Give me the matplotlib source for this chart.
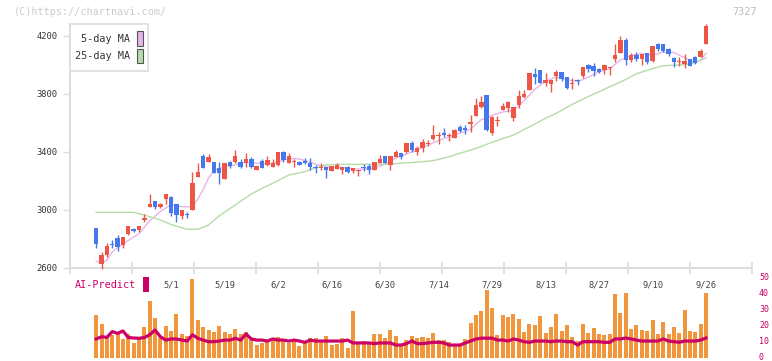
"""Candlestick chart with 5/25-day MA and AI-Predict bar panel (chartnavi style)."""

import matplotlib

matplotlib.use("Agg")
import matplotlib.pyplot as plt
import numpy as np
from matplotlib.patches import Rectangle
from matplotlib.transforms import ScaledTranslation, blended_transform_factory

W, H = 772, 361

RED = "#ef5545"
BLUE = "#4479ee"
ORANGE = "#f0963c"
CRIMSON = "#cc0066"
PINK = "#e8b4ea"
GREEN = "#b4dca8"
GRID = "#dddddd"
MONO = "DejaVu Sans Mono"

# daily prices, one entry per trading day (4/10 .. 9/26)
opens = [2876, 2630, 2690, 2763, 2805, 2759, 2834, 2867, 2864, 2933,
         3021, 3062, 3021, 3078, 3092, 3041, 2959, 2970, 3000, 3228,
         3372, 3333, 3329, 3292, 3216, 3333, 3333, 3329, 3326, 3350,
         3274, 3338, 3308, 3294, 3308, 3398, 3326, 3331, 3329, 3338,
         3326, 3297, 3288, 3299, 3271, 3283, 3276, 3294, 3271, 3267,
         3294, 3303, 3276, 3326, 3372, 3313, 3368, 3395, 3400, 3462,
         3402, 3428, 3457, 3490, 3510, 3529, 3510, 3494, 3572, 3568,
         3593, 3648, 3710, 3793, 3531, 3616, 3692, 3706, 3637, 3726,
         3781, 3830, 3938, 3966, 3874, 3871, 3924, 3952, 3917, 3867,
         3897, 3924, 4000, 3993, 3972, 3963, 3977, 4044, 4085, 4172,
         4034, 4069, 4039, 4085, 4027, 4145, 4145, 4110, 4046, 4021,
         4009, 4039, 4053, 4058, 4143]
highs = [2876, 2712, 2772, 2793, 2828, 2814, 2890, 2874, 2890, 2970,
         3110, 3062, 3045, 3110, 3099, 3041, 3002, 2984, 3262, 3322,
         3386, 3386, 3329, 3329, 3322, 3340, 3412, 3350, 3391, 3368,
         3301, 3350, 3372, 3350, 3398, 3407, 3391, 3352, 3336, 3359,
         3356, 3310, 3322, 3299, 3303, 3326, 3294, 3303, 3290, 3274,
         3315, 3315, 3331, 3379, 3372, 3372, 3414, 3395, 3462, 3476,
         3444, 3490, 3481, 3586, 3540, 3564, 3533, 3559, 3586, 3586,
         3655, 3770, 3783, 3793, 3648, 3646, 3736, 3754, 3713, 3828,
         3828, 3947, 3977, 3966, 3943, 3894, 3966, 3952, 3917, 3908,
         3903, 3988, 4007, 4014, 3979, 3998, 3988, 4145, 4200, 4188,
         4085, 4092, 4076, 4085, 4131, 4150, 4145, 4115, 4053, 4053,
         4074, 4039, 4062, 4113, 4283]
lows = [2740, 2593, 2674, 2736, 2717, 2736, 2828, 2846, 2846, 2915,
        3021, 3005, 3015, 3043, 2959, 2919, 2936, 2943, 3000, 3228,
        3292, 3333, 3257, 3181, 3216, 3292, 3322, 3292, 3294, 3287,
        3274, 3287, 3303, 3294, 3303, 3333, 3322, 3299, 3308, 3315,
        3274, 3257, 3276, 3223, 3271, 3283, 3246, 3257, 3257, 3237,
        3271, 3246, 3276, 3326, 3326, 3274, 3368, 3352, 3395, 3402,
        3379, 3402, 3444, 3483, 3455, 3506, 3478, 3494, 3536, 3522,
        3540, 3648, 3701, 3545, 3517, 3579, 3690, 3678, 3614, 3701,
        3774, 3830, 3871, 3874, 3857, 3816, 3892, 3892, 3834, 3834,
        3862, 3908, 3954, 3925, 3943, 3940, 3931, 4023, 4085, 3999,
        4023, 4030, 3999, 4005, 4023, 4097, 4092, 4064, 3984, 3995,
        3981, 3995, 4005, 4053, 4143]
closes = [2768, 2690, 2750, 2757, 2743, 2814, 2890, 2857, 2890, 2947,
          3039, 3021, 3039, 3110, 2981, 2963, 3002, 2966, 3186, 3262,
          3292, 3363, 3257, 3257, 3322, 3306, 3372, 3297, 3350, 3294,
          3301, 3292, 3343, 3324, 3398, 3343, 3372, 3336, 3313, 3324,
          3299, 3288, 3294, 3274, 3303, 3312, 3294, 3262, 3290, 3274,
          3290, 3276, 3331, 3354, 3326, 3372, 3402, 3368, 3462, 3416,
          3428, 3469, 3464, 3517, 3517, 3517, 3517, 3552, 3545, 3552,
          3607, 3724, 3745, 3550, 3641, 3618, 3717, 3745, 3713, 3788,
          3800, 3947, 3917, 3878, 3897, 3894, 3952, 3906, 3844, 3878,
          3892, 3988, 3972, 3961, 3954, 3998, 3984, 4069, 4172, 4034,
          4069, 4039, 4076, 4023, 4131, 4108, 4099, 4074, 4021, 4028,
          4028, 3995, 4016, 4097, 4269]

# moving averages at selected trading-day indices
ma5_idx = [0, 1, 2, 3, 4, 6, 8, 10, 12, 14, 16, 18, 19, 20, 21, 22, 24, 26,
           28, 30, 32, 34, 36, 38, 40, 42, 44, 46, 48, 50, 52, 54, 56, 58,
           60, 62, 64, 66, 68, 70, 72, 73, 74, 76, 78, 80, 82, 84, 86, 88,
           90, 92, 94, 96, 98, 100, 102, 104, 106, 108, 110, 112, 113, 114]
ma5 = [2648, 2632, 2655, 2710, 2742, 2790, 2837, 2925, 2990, 3038, 3023,
       3022, 3076, 3142, 3220, 3272, 3298, 3312, 3329, 3323, 3316, 3332,
       3356, 3352, 3329, 3304, 3292, 3293, 3284, 3282, 3292, 3315, 3357,
       3386, 3415, 3448, 3479, 3506, 3530, 3557, 3624, 3636, 3653, 3676,
       3687, 3753, 3833, 3888, 3917, 3899, 3886, 3916, 3953, 3974, 4035,
       4066, 4078, 4068, 4088, 4086, 4050, 4018, 4033, 4081]
ma25_idx = [0, 7, 9, 12, 14, 17, 19, 21, 23, 25, 27, 29, 31, 33, 36, 39, 41,
            43, 46, 52, 56, 60, 63, 66, 68, 71, 74, 78, 81, 84, 86, 89, 92,
            96, 99, 101, 104, 106, 110, 112, 114]
ma25 = [2984, 2984, 2965, 2931, 2900, 2867, 2867, 2897, 2960, 3010, 3060,
        3110, 3150, 3184, 3241, 3264, 3290, 3312, 3315, 3315, 3320, 3330,
        3340, 3368, 3391, 3425, 3467, 3517, 3574, 3632, 3667, 3729, 3782,
        3850, 3900, 3940, 3975, 3995, 4002, 4016, 4050]

# AI-Predict panel
ai_bars = [26.9, 21.2, 13.1, 14.4, 16.5, 11.7, 15.0, 9.6, 11.9, 19.4,
           35.6, 25.0, 12.5, 20.0, 16.9, 27.7, 15.0, 13.8, 49.4, 23.8,
           19.4, 17.5, 16.2, 20.0, 16.2, 15.0, 18.1, 15.0, 16.2, 11.9,
           8.1, 9.6, 11.2, 11.9, 13.1, 11.2, 9.6, 11.2, 7.5, 9.6,
           12.5, 12.5, 11.2, 13.8, 8.1, 9.0, 12.5, 6.2, 29.4, 9.6,
           10.6, 10.0, 15.2, 15.2, 12.5, 17.5, 13.8, 8.1, 11.2, 13.8,
           12.5, 13.1, 12.5, 15.6, 11.2, 11.2, 10.0, 8.8, 8.8, 11.9,
           22.1, 26.9, 29.4, 42.5, 31.2, 14.4, 26.9, 25.6, 27.5, 24.4,
           16.5, 21.2, 20.6, 26.2, 15.6, 19.4, 27.5, 16.9, 20.6, 13.1,
           10.6, 21.2, 15.6, 18.8, 15.0, 14.4, 15.0, 40.0, 28.1, 40.6,
           18.1, 20.6, 17.5, 16.9, 23.8, 15.0, 22.5, 15.0, 19.4, 15.6,
           30.0, 16.9, 16.2, 21.2, 40.6]
ai_line = [11.9, 13.3, 12.9, 16.5, 15.4, 16.9, 12.8, 12.5, 12.3, 12.8,
           14.5, 17.5, 13.3, 11.2, 11.9, 11.9, 11.2, 10.6, 14.5, 12.3,
           11.2, 10.2, 10.2, 10.6, 11.2, 11.2, 12.3, 11.2, 15.0, 11.9,
           11.2, 11.2, 10.6, 11.9, 11.2, 11.2, 10.6, 11.2, 10.6, 9.8,
           11.2, 10.6, 10.6, 10.6, 10.6, 10.6, 10.6, 11.2, 9.4, 9.4,
           9.4, 9.4, 9.0, 9.4, 9.4, 9.4, 8.1, 8.1, 9.0, 10.6,
           9.0, 9.0, 9.4, 9.8, 9.8, 9.4, 8.1, 8.1, 8.1, 9.4,
           10.6, 11.9, 12.4, 12.4, 12.4, 11.2, 11.2, 10.6, 11.9, 11.2,
           10.2, 9.8, 10.6, 10.6, 10.6, 10.2, 10.6, 10.6, 10.2, 10.2,
           8.1, 10.2, 10.2, 10.2, 10.2, 9.8, 9.8, 11.9, 11.9, 12.5,
           11.9, 11.2, 10.6, 10.6, 10.6, 10.6, 11.9, 10.6, 10.2, 9.8,
           10.6, 10.6, 10.6, 11.2, 12.5]

date_labels = ["5/1", "5/19", "6/2", "6/16", "6/30", "7/14", "7/29",
               "8/13", "8/27", "9/10", "9/26"]
date_pos = [14, 24, 34, 44, 54, 64, 74, 84, 94, 104, 114]

price_ticks = [2600, 3000, 3400, 3800, 4200]
ai_ticks = [0, 10, 20, 30, 40, 50]

XLIM = (-4.9, 122.6)


def px_rect(x0, y0, x1, y1):
    """Axes rect from pixel box (top-left origin)."""
    return [x0 / W, 1 - y1 / H, (x1 - x0) / W, (y1 - y0) / H]


def draw_candles(ax):
    idx = np.arange(len(closes))
    o = np.array(opens, float)
    c = np.array(closes, float)
    colors = [RED if cc >= oo else BLUE for oo, cc in zip(o, c)]
    ax.vlines(idx, lows, highs, colors=colors, lw=1.0, zorder=3, clip_on=False)
    body = np.maximum(np.abs(c - o), 6)
    ax.bar(idx, body, bottom=np.minimum(o, c), width=0.82, color=colors,
           linewidth=0, zorder=4, clip_on=False)

    ax.plot(ma5_idx, ma5, color=PINK, lw=1.0, zorder=2)
    ax.plot(ma25_idx, ma25, color=GREEN, lw=1.0, zorder=2)

    ax.set_xlim(*XLIM)
    ax.set_ylim(2600, 2600 + 244 * 400 / 58)
    ax.set_yticks(price_ticks)
    ax.set_yticklabels([str(t) for t in price_ticks], family=MONO,
                       fontsize=6.3, color="#333333")
    ax.set_xticks(np.linspace(XLIM[0], XLIM[1], 12))
    ax.set_xticklabels([])
    ax.tick_params(axis="y", length=5, width=1, color=GRID, pad=4)
    ax.tick_params(axis="x", direction="inout", length=8, width=1.2, color=GRID)
    for side in ("top", "right"):
        ax.spines[side].set_visible(False)
    for side in ("left", "bottom"):
        ax.spines[side].set_color(GRID)
        ax.spines[side].set_linewidth(1.5)
    ax.set_facecolor("none")


def draw_ai_panel(ax, fig):
    idx = np.arange(len(ai_bars))
    ax.bar(idx, ai_bars, width=0.75, color=ORANGE, linewidth=0, zorder=2)
    ax.plot(idx, ai_line, color=CRIMSON, lw=2.3, zorder=3)

    ax.set_xlim(*XLIM)
    ax.set_ylim(0, 55)
    ax.yaxis.tick_right()
    ax.set_yticks(ai_ticks)
    ax.set_yticklabels([str(t) for t in ai_ticks], family=MONO,
                       fontsize=6.0, color=CRIMSON)
    ax.tick_params(axis="y", length=0, pad=5)
    # nudge the right-hand labels up a little so "0" stays inside the figure
    shift = ScaledTranslation(0, 2 / 100, fig.dpi_scale_trans)
    for lab in ax.get_yticklabels():
        lab.set_transform(lab.get_transform() + shift)
    ax.set_xticks([])
    for s in ax.spines.values():
        s.set_visible(False)
    ax.set_facecolor("none")

    trans = blended_transform_factory(ax.transData, ax.transAxes)
    for pos, lab in zip(date_pos, date_labels):
        ax.text(pos, 0.83, lab, transform=trans, ha="center", va="center",
                family=MONO, fontsize=6.3, color="#444444")


def draw_decor(fig):
    def fx(x):
        return x / W

    def fy(y):
        return 1 - y / H

    fig.text(fx(14), fy(12), "(C)https://chartnavi.com/", family=MONO,
             fontsize=7.3, color="#cccccc", va="center", ha="left")
    fig.text(fx(757), fy(12), "7327", family=MONO, fontsize=7.3,
             color="#bbbbbb", va="center", ha="right")

    # legend box
    fig.add_artist(Rectangle((fx(70), fy(71)), (148 - 70) / W, (71 - 24) / H,
                             transform=fig.transFigure, facecolor="white",
                             edgecolor=GRID, lw=1.2, zorder=10))
    for y0, y1, label, col in [(31, 46, "5-day MA", PINK), (49, 63, "25-day MA", GREEN)]:
        fig.text(fx(130), fy((y0 + y1) / 2), label, family=MONO, fontsize=7.3,
                 color="#333333", ha="right", va="center", zorder=11)
        fig.add_artist(Rectangle((fx(137), fy(y1)), 5.5 / W, (y1 - y0) / H,
                                 transform=fig.transFigure, facecolor=col,
                                 edgecolor="#555555", lw=0.8, zorder=11))

    fig.text(fx(75), fy(285), "AI-Predict", family=MONO, fontsize=7.3,
             color=CRIMSON, ha="left", va="center")
    fig.add_artist(Rectangle((fx(143), fy(292)), 5.5 / W, 15 / H,
                             transform=fig.transFigure, facecolor=CRIMSON,
                             edgecolor="none"))


def main() -> None:
    fig = plt.figure(figsize=(W / 100, H / 100), dpi=100)
    ax_price = fig.add_axes(px_rect(70, 24, 752, 268))
    ax_ai = fig.add_axes(px_rect(70, 270, 752, 358))
    draw_candles(ax_price)
    draw_ai_panel(ax_ai, fig)
    draw_decor(fig)
    fig.savefig("out.png", dpi=100)
    plt.close(fig)


if __name__ == "__main__":
    main()
